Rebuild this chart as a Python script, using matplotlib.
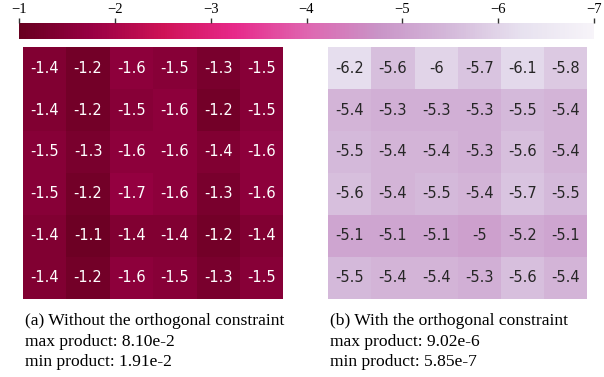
import numpy as np
import matplotlib
matplotlib.use("Agg")
import matplotlib.pyplot as plt
from matplotlib.colors import Normalize
from matplotlib.cm import ScalarMappable

left_vals = [
    [-1.4, -1.2, -1.6, -1.5, -1.3, -1.5],
    [-1.4, -1.2, -1.5, -1.6, -1.2, -1.5],
    [-1.5, -1.3, -1.6, -1.6, -1.4, -1.6],
    [-1.5, -1.2, -1.7, -1.6, -1.3, -1.6],
    [-1.4, -1.1, -1.4, -1.4, -1.2, -1.4],
    [-1.4, -1.2, -1.6, -1.5, -1.3, -1.5],
]
right_vals = [
    [-6.2, -5.6, -6.0, -5.7, -6.1, -5.8],
    [-5.4, -5.3, -5.3, -5.3, -5.5, -5.4],
    [-5.5, -5.4, -5.4, -5.3, -5.6, -5.4],
    [-5.6, -5.4, -5.5, -5.4, -5.7, -5.5],
    [-5.1, -5.1, -5.1, -5.0, -5.2, -5.1],
    [-5.5, -5.4, -5.4, -5.3, -5.6, -5.4],
]
cbar_ticks = [-1, -2, -3, -4, -5, -6, -7]
caption_a = ["(a) Without the orthogonal constraint", "max product: 8.10e-2", "min product: 1.91e-2"]
caption_b = ["(b) With the orthogonal constraint", "max product: 9.02e-6", "min product: 5.85e-7"]

W, H = 604, 377
fig = plt.figure(figsize=(W / 100, H / 100), dpi=100)
cmap = plt.get_cmap("PuRd")
norm = Normalize(vmin=-7, vmax=-1)

def fx(px):
    return px / W

def fy(py):
    return 1 - py / H

def heat(ax, vals, txtcolor):
    arr = np.array(vals)
    ax.pcolormesh(arr, cmap=cmap, norm=norm)
    ax.set_xlim(0, arr.shape[1])
    ax.set_ylim(arr.shape[0], 0)
    for i in range(arr.shape[0]):
        for j in range(arr.shape[1]):
            ax.text(j + 0.5, i + 0.5, f"{arr[i, j]:.2g}", ha="center", va="center",
                    fontsize=10.5, color=txtcolor, family="DejaVu Sans")
    ax.set_xticks([])
    ax.set_yticks([])
    for s in ax.spines.values():
        s.set_visible(False)

axL = fig.add_axes([fx(23), fy(298.5), fx(283.3 - 23), (298.5 - 47.3) / H])
heat(axL, left_vals, "white")
axR = fig.add_axes([fx(328.3), fy(298.5), fx(587 - 328.3), (298.5 - 47.3) / H])
heat(axR, right_vals, "#262626")

cax = fig.add_axes([fx(19), fy(39), fx(594 - 19), (39 - 22.7) / H])
cb = fig.colorbar(ScalarMappable(norm=norm, cmap=cmap), cax=cax, orientation="horizontal")
cb.outline.set_visible(False)
cax.xaxis.set_ticks_position("top")
cax.xaxis.set_label_position("top")
cax.set_xlim(-1, -7)
cax.set_xticks(cbar_ticks)
cax.set_xticklabels([f"\u2212{abs(t)}" for t in cbar_ticks], family="Liberation Serif", fontsize=10.5)
cax.tick_params(axis="x", length=3.5, width=1, pad=1.5, color="#333333")

for k, line in enumerate(caption_a):
    fig.text(fx(25), fy(321 + 20.5 * k), line, family="Liberation Serif", fontsize=12.6,
             ha="left", va="center")
for k, line in enumerate(caption_b):
    fig.text(fx(330), fy(321 + 20.5 * k), line, family="Liberation Serif", fontsize=12.6,
             ha="left", va="center")

fig.savefig("out.png", dpi=100)
